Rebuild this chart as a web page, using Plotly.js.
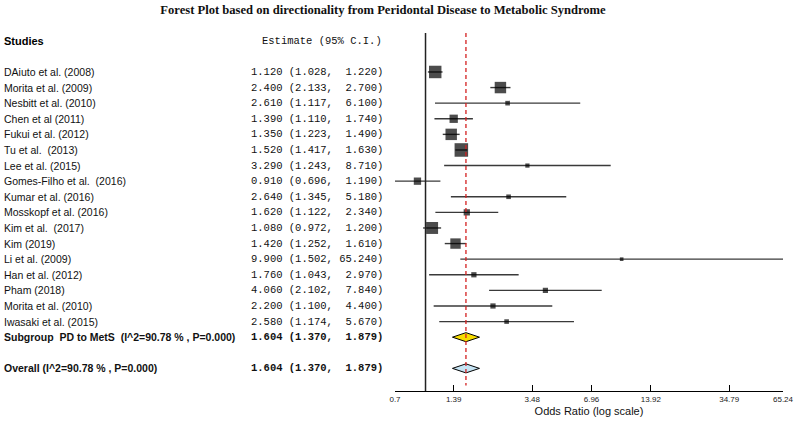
<!DOCTYPE html>
<html>
<head>
<meta charset="utf-8">
<script src="https://cdn.plot.ly/plotly-3.0.1.min.js"></script>
<style>
  html, body { margin: 0; padding: 0; background: #fff; }
  #forest-plot { width: 795px; height: 422px; }
</style>
</head>
<body>
<div id="forest-plot"></div>
<script>
// study level data (odds ratio and 95% CI)
const studies = [
    "DAiuto et al. (2008)", "Morita et al. (2009)", "Nesbitt et al. (2010)",
    "Chen et al (2011)", "Fukui et al. (2012)", "Tu et al.  (2013)",
    "Lee et al. (2015)", "Gomes-Filho et al.  (2016)", "Kumar et al. (2016)",
    "Mosskopf et al. (2016)", "Kim et al.  (2017)", "Kim (2019)",
    "Li et al. (2009)", "Han et al. (2012)", "Pham (2018)",
    "Morita et al. (2010)", "Iwasaki et al. (2015)"
];
const estimates = [1.12, 2.4, 2.61, 1.39, 1.35, 1.52, 3.29, 0.91, 2.64, 1.62, 1.08, 1.42, 9.9, 1.76, 4.06, 2.2, 2.58];
const lowers = [1.028, 2.133, 1.117, 1.11, 1.223, 1.417, 1.243, 0.696, 1.345, 1.122, 0.972, 1.252, 1.502, 1.043, 2.102, 1.1, 1.174];
const uppers = [1.22, 2.7, 6.1, 1.74, 1.49, 1.63, 8.71, 1.19, 5.18, 2.34, 1.2, 1.61, 65.24, 2.97, 7.84, 4.4, 5.67];
// approximate study weights (%)
const weights = [13.1, 11.0, 1.8, 5.8, 11.0, 15.4, 1.5, 4.5, 1.8, 3.3, 12.0, 9.1, 1.1, 2.3, 2.3, 2.3, 1.8];

// pooled results
const pooledLabels = ["Subgroup  PD to MetS  (I^2=90.78 % , P=0.000)", "Overall (I^2=90.78 % , P=0.000)"];
const pooledEst = [1.604, 1.604];
const pooledLow = [1.37, 1.37];
const pooledHigh = [1.879, 1.879];
const pooledRows = [17, 19];
const pooledColors = ["#f7dc00", "#c6e4f4"];

const tickVals = [0.7, 1.39, 3.48, 6.96, 13.92, 34.79, 65.24];
const tickText = ["0.7", "1.39", "3.48", "6.96", "13.92", "34.79", "65.24"];

const fmt = (v, w) => v.toFixed(3).padStart(w, " ");
const ciText = (e, l, h) => fmt(e, 5) + " (" + fmt(l, 5) + ", " + fmt(h, 6) + ")";

const rows = studies.map((s, i) => i);

// CI whiskers
let lx = [], ly = [];
rows.forEach((i) => {
    lx.push(lowers[i], uppers[i], null);
    ly.push(i, i, null);
});
let whiskers = {
    x: lx, y: ly, type: "scatter", mode: "lines",
    line: { color: "#3a3a3a", width: 1.4 },
    hoverinfo: "skip", showlegend: false
};
let boxes = {
    x: estimates, y: rows, type: "scatter", mode: "markers",
    marker: { symbol: "square", color: "#000", size: weights.map((w) => 3.45 * Math.sqrt(w)), line: { width: 0 } },
    showlegend: false
};

// diamonds for the pooled estimates
let diamonds = pooledEst.map((e, k) => ({
    x: [pooledLow[k], e, pooledHigh[k], e, pooledLow[k]],
    y: [pooledRows[k], pooledRows[k] - 0.29, pooledRows[k], pooledRows[k] + 0.29, pooledRows[k]],
    type: "scatter", mode: "lines", fill: "toself",
    fillcolor: pooledColors[k], line: { color: "#000", width: 1 },
    showlegend: false, hoverinfo: "skip"
}));

const left = 395, plotW = 388;
const px = (p) => (p - left) / plotW;
const nameFont = { family: "Liberation Sans, Arial, sans-serif", size: 10.5, color: "#111" };
const monoFont = { family: "Liberation Mono, Courier New, monospace", size: 10.5, color: "#111" };

let annotations = [];
annotations.push({ xref: "paper", yref: "y", x: px(2), y: -2, xanchor: "left", showarrow: false,
    text: "<b>Studies</b>", font: { family: nameFont.family, size: 11, color: "#000" } });
annotations.push({ xref: "paper", yref: "y", x: px(260), y: -2, xanchor: "left", showarrow: false,
    text: "Estimate (95% C.I.)", font: monoFont });
rows.forEach((i) => {
    annotations.push({ xref: "paper", yref: "y", x: px(2), y: i, xanchor: "left", showarrow: false,
        text: studies[i].replace(/ /g, "&nbsp;"), font: nameFont });
    annotations.push({ xref: "paper", yref: "y", x: px(249), y: i, xanchor: "left", showarrow: false,
        text: ciText(estimates[i], lowers[i], uppers[i]).replace(/ /g, "&nbsp;"), font: monoFont });
});
pooledLabels.forEach((lab, k) => {
    annotations.push({ xref: "paper", yref: "y", x: px(2), y: pooledRows[k], xanchor: "left", showarrow: false,
        text: "<b>" + lab.replace(/ /g, "&nbsp;") + "</b>", font: nameFont });
    annotations.push({ xref: "paper", yref: "y", x: px(249), y: pooledRows[k], xanchor: "left", showarrow: false,
        text: "<b>" + ciText(pooledEst[k], pooledLow[k], pooledHigh[k]).replace(/ /g, "&nbsp;") + "</b>", font: monoFont });
});

var layout = {
    width: 795, height: 422,
    margin: { l: left, r: 12, t: 30, b: 31 },
    paper_bgcolor: "#fff", plot_bgcolor: "#fff",
    title: {
        text: "<b>Forest Plot based on directionality from Peridontal Disease to Metabolic Syndrome</b>",
        font: { family: "Liberation Serif, Times New Roman, serif", size: 12.6, color: "#111" },
        x: 383 / 795, xref: "container", xanchor: "center",
        y: 1 - 10 / 422, yref: "container", yanchor: "middle"
    },
    xaxis: {
        type: "log",
        range: [Math.log10(0.7), Math.log10(65.24)],
        tickvals: tickVals, ticktext: tickText,
        ticks: "inside", ticklen: 6, tickcolor: "#000", tickwidth: 1.2,
        showline: true, linecolor: "#000", linewidth: 1.2,
        showgrid: false, zeroline: false,
        tickfont: { family: "Liberation Sans, Arial, sans-serif", size: 8, color: "#222" },
        title: { text: "Odds Ratio (log scale)", standoff: 4,
            font: { family: "Liberation Sans, Arial, sans-serif", size: 11, color: "#111" } }
    },
    yaxis: { visible: false, range: [20.45, -2.69], showgrid: false, zeroline: false },
    shapes: [
        { type: "line", xref: "x", yref: "y", x0: 1, x1: 1, y0: -2.5, y1: 20.45,
          line: { color: "#222", width: 1.5 } },
        { type: "line", xref: "x", yref: "y", x0: pooledEst[1], x1: pooledEst[1], y0: -2.5, y1: 20.1,
          line: { color: "#d42020", width: 1.3, dash: "4px,3px" } }
    ],
    annotations: annotations,
    showlegend: false
};

Plotly.newPlot("forest-plot", [whiskers, boxes].concat(diamonds), layout, { displayModeBar: false, staticPlot: true });
</script>
</body>
</html>
